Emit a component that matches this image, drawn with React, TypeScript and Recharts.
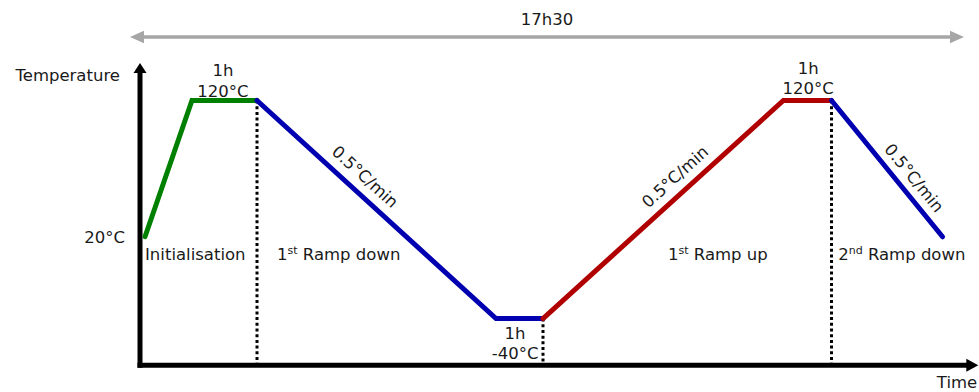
import React from 'react';
import { LineChart, Line, XAxis, YAxis, ReferenceLine, ReferenceDot } from 'recharts';

// Time in hours (schematic, 17h30 total), temperature in °C
const initData = [
  { h: 0.315, T: 20 },
  { h: 1.3, T: 120 },
  { h: 2.665, T: 120 },
];
const rampDown1Data = [
  { h: 2.665, T: 120 },
  { h: 7.68, T: -40 },
  { h: 8.666, T: -40 },
];
const rampUpData = [
  { h: 8.666, T: -40 },
  { h: 13.71, T: 120 },
  { h: 14.72, T: 120 },
];
const rampDown2Data = [
  { h: 14.72, T: 120 },
  { h: 17.05, T: 20 },
];

// phase boundaries (dotted lines) : time and temperature at the curve
const phaseBoundaries = [
  { h: 2.665, T: 120 },
  { h: 8.666, T: -40 },
  { h: 14.72, T: 120 },
];

const totalDuration = 17.5;
const totalLabel = '17h30';
const xDomain = [0, 17.5];
const yDomain = [-74.1, 147.5];
const axisOriginH = 0.21;
const axisBottomT = -74.3;
const axisEndH = 17.8;
const durationArrowT = 166.6;

const holdLabels = [
  { h: 1.95, T1: 138.0, T2: 122.9, line1: '1h', line2: '120°C' },
  { h: 8.08, T1: -54.7, T2: -69.4, line1: '1h', line2: '-40°C' },
  { h: 14.23, T1: 139.4, T2: 124.4, line1: '1h', line2: '120°C' },
];

const phaseLabels = [
  { h: 0.315, T: 3.0, num: '', sup: '', text: 'Initialisation' },
  { h: 3.085, T: 3.0, num: '1', sup: 'st', text: ' Ramp down' },
  { h: 11.29, T: 3.0, num: '1', sup: 'st', text: ' Ramp up' },
  { h: 14.86, T: 3.0, num: '2', sup: 'nd', text: ' Ramp down' },
];

const rateLabels = [
  { h: 4.93, T: 63.9, angle: 42.5, text: '0.5°C/min' },
  { h: 11.44, T: 63.9, angle: -42.1, text: '0.5°C/min' },
  { h: 16.45, T: 63.1, angle: 50.7, text: '0.5°C/min' },
];

const FONT = '"DejaVu Sans", Verdana, sans-serif';
const FS = 16.5;
const TXT = '#1a1a1a';

const arrowShape =
  (color: string, width: number, headLen: number, headHalf: number, both: boolean, startCap: string) =>
  (props: any) => {
    const { x1, y1, x2, y2 } = props;
    const dx = x2 - x1;
    const dy = y2 - y1;
    const len = Math.hypot(dx, dy) || 1;
    const ux = dx / len;
    const uy = dy / len;
    const px = -uy;
    const py = ux;
    const head = (tx: number, ty: number, sx: number, sy: number) =>
      `${tx},${ty} ${tx - sx * headLen + px * headHalf},${ty - sy * headLen + py * headHalf} ${
        tx - sx * headLen - px * headHalf
      },${ty - sy * headLen - py * headHalf}`;
    const lx1 = both ? x1 + ux * headLen * 0.8 : x1;
    const ly1 = both ? y1 + uy * headLen * 0.8 : y1;
    const lx2 = x2 - ux * headLen * 0.8;
    const ly2 = y2 - uy * headLen * 0.8;
    return (
      <g>
        <line x1={lx1} y1={ly1} x2={lx2} y2={ly2} stroke={color} strokeWidth={width} strokeLinecap={startCap as any} />
        <polygon points={head(x2, y2, ux, uy)} fill={color} />
        {both && <polygon points={head(x1, y1, -ux, -uy)} fill={color} />}
      </g>
    );
  };

const textDot = (key: string, h: number, T: number, render: (cx: number, cy: number) => React.ReactElement) => (
  <ReferenceDot
    key={key}
    x={h}
    y={T}
    r={0}
    ifOverflow="visible"
    shape={(p: any) => render(p.cx, p.cy)}
  />
);

export default function App() {
  return (
    <div style={{ position: 'absolute', left: 0, top: 0, width: 979, height: 392, background: '#fff' }}>
      <LineChart width={979} height={392} margin={{ top: 63, right: 15, bottom: 27, left: 130 }}>
        <XAxis type="number" dataKey="h" domain={xDomain} allowDataOverflow hide />
        <YAxis type="number" dataKey="T" domain={yDomain} allowDataOverflow hide />

        {/* axes */}
        <ReferenceLine
          segment={[{ x: axisOriginH, y: axisBottomT }, { x: axisEndH, y: axisBottomT }]}
          ifOverflow="visible"
          shape={arrowShape('#000', 5, 12, 6.5, false, 'square')}
        />
        <ReferenceLine
          segment={[{ x: axisOriginH, y: axisBottomT }, { x: axisOriginH, y: yDomain[1] }]}
          ifOverflow="visible"
          shape={arrowShape('#000', 5, 10, 6.5, false, 'square')}
        />
        {/* total duration arrow */}
        <ReferenceLine
          segment={[{ x: 0, y: durationArrowT }, { x: totalDuration, y: durationArrowT }]}
          ifOverflow="visible"
          shape={arrowShape('#a6a6a6', 3.5, 14, 6.3, true, 'butt')}
        />

        {/* phase boundaries */}
        {phaseBoundaries.map((b, i) => (
          <ReferenceLine
            key={`pb${i}`}
            segment={[{ x: b.h, y: b.T }, { x: b.h, y: axisBottomT }]}
            ifOverflow="visible"
            stroke="#000"
            strokeWidth={3}
            strokeDasharray="3 2.7"
          />
        ))}

        <Line data={initData} dataKey="T" type="linear" stroke="#008000" strokeWidth={5} strokeLinecap="round" dot={false} isAnimationActive={false} />
        <Line data={rampDown1Data} dataKey="T" type="linear" stroke="#0000b0" strokeWidth={5} strokeLinecap="round" dot={false} isAnimationActive={false} />
        <Line data={rampUpData} dataKey="T" type="linear" stroke="#b00000" strokeWidth={5} strokeLinecap="round" dot={false} isAnimationActive={false} />
        <Line data={rampDown2Data} dataKey="T" type="linear" stroke="#0000b0" strokeWidth={5} strokeLinecap="round" dot={false} isAnimationActive={false} />

        {/* texts */}
        {textDot('t-temp', -0.21, 134.3, (cx, cy) => (
          <text x={cx} y={cy} textAnchor="end" fontFamily={FONT} fontSize={FS} fill={TXT}>Temperature</text>
        ))}
        {textDot('t-20', -0.105, 15.4, (cx, cy) => (
          <text x={cx} y={cy} textAnchor="end" fontFamily={FONT} fontSize={FS} fill={TXT}>20°C</text>
        ))}
        {textDot('t-time', 16.93, -90.7, (cx, cy) => (
          <text x={cx} y={cy} textAnchor="start" fontFamily={FONT} fontSize={FS} fill={TXT}>Time</text>
        ))}
        {textDot('t-total', totalDuration / 2, 175.4, (cx, cy) => (
          <text x={cx} y={cy} textAnchor="middle" fontFamily={FONT} fontSize={FS} fill={TXT}>{totalLabel}</text>
        ))}
        {holdLabels.map((l, i) => [
          textDot(`hl1${i}`, l.h, l.T1, (cx, cy) => (
            <text x={cx} y={cy} textAnchor="middle" fontFamily={FONT} fontSize={FS} fill={TXT}>{l.line1}</text>
          )),
          textDot(`hl2${i}`, l.h, l.T2, (cx, cy) => (
            <text x={cx} y={cy} textAnchor="middle" fontFamily={FONT} fontSize={FS} fill={TXT}>{l.line2}</text>
          )),
        ])}
        {phaseLabels.map((l, i) =>
          textDot(`pl${i}`, l.h, l.T, (cx, cy) => (
            <text x={cx} y={cy} textAnchor="start" fontFamily={FONT} fontSize={FS} fill={TXT}>
              {l.num ? (
                <>
                  <tspan>{l.num}</tspan>
                  <tspan fontSize={11} dy={-6}>{l.sup}</tspan>
                  <tspan dy={6}>{l.text}</tspan>
                </>
              ) : (
                l.text
              )}
            </text>
          ))
        )}
        {rateLabels.map((l, i) =>
          textDot(`rl${i}`, l.h, l.T, (cx, cy) => (
            <text
              x={cx}
              y={cy}
              textAnchor="middle"
              dominantBaseline="central"
              transform={`rotate(${l.angle} ${cx} ${cy})`}
              fontFamily={FONT}
              fontSize={FS}
              fill={TXT}
            >
              {l.text}
            </text>
          ))
        )}
      </LineChart>
    </div>
  );
}
